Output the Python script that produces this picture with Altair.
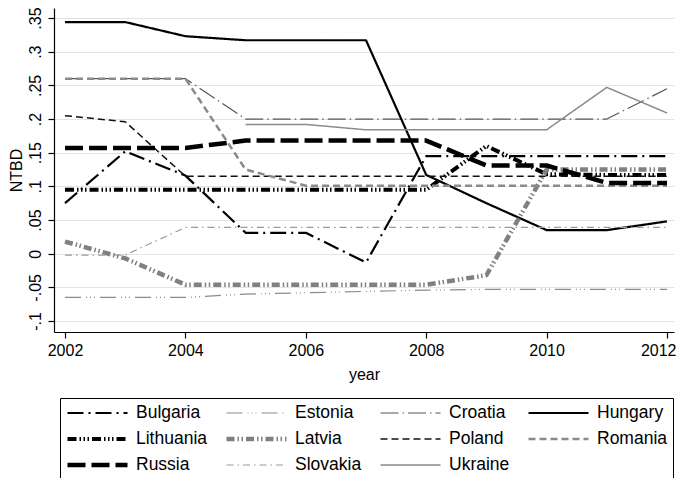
import altair as alt
import pandas as pd

years = list(range(2002, 2013))
countries = ["Bulgaria", "Estonia", "Croatia", "Hungary", "Lithuania", "Latvia",
             "Poland", "Romania", "Russia", "Slovakia", "Ukraine"]

bulgaria = [0.075, 0.152, 0.116, 0.031, 0.031, -0.013, 0.145, 0.145, 0.145, 0.145, 0.145]
estonia = [-0.065, -0.065, -0.065, -0.060, -0.058, -0.056, -0.054, -0.053, -0.053, -0.053, -0.053]
croatia = [0.26, 0.26, 0.26, 0.20, 0.20, 0.20, 0.20, 0.20, 0.20, 0.20, 0.245]
hungary = [0.344, 0.344, 0.323, 0.317, 0.317, 0.317, 0.117, 0.075, 0.035, 0.035, 0.048]
lithuania = [0.095, 0.095, 0.095, 0.095, 0.095, 0.095, 0.095, 0.160, 0.118, 0.117, 0.117]
latvia = [0.018, -0.007, -0.046, -0.046, -0.046, -0.046, -0.046, -0.032, 0.125, 0.125, 0.125]
poland = [0.205, 0.196, 0.115, 0.115, 0.115, 0.115, 0.115, 0.115, 0.115, 0.115, 0.115]
romania = [0.26, 0.26, 0.26, 0.125, 0.101, 0.101, 0.101, 0.101, 0.101, 0.101, 0.101]
russia = [0.157, 0.157, 0.157, 0.168, 0.168, 0.168, 0.168, 0.131, 0.131, 0.105, 0.105]
slovakia = [-0.002, -0.002, 0.039, 0.039, 0.039, 0.039, 0.039, 0.039, 0.039, 0.039, 0.039]
ukraine = [None, None, None, 0.192, 0.192, 0.184, 0.184, 0.184, 0.184, 0.247, 0.209]

series = [bulgaria, estonia, croatia, hungary, lithuania, latvia,
          poland, romania, russia, slovakia, ukraine]

colors = ["#000000", "#8c8c8c", "#555555", "#000000", "#000000", "#808080",
          "#111111", "#8a8a8a", "#000000", "#9a9a9a", "#8a8a8a"]
dashes = [[16, 5, 2, 5], [16, 5, 1, 3, 1, 3, 1, 5], [18, 4, 1.5, 4], [1, 0],
          [9, 3, 1.5, 2.5, 1.5, 2.5, 1.5, 3], [8, 3, 1.5, 2.5, 1.5, 3],
          [7, 4], [7, 4], [18, 6], [7, 4, 1.5, 4], [1, 0]]
widths = [2.2, 1.2, 1.2, 2.2, 4, 4.5, 1.5, 2.5, 4.5, 1.2, 1.5]

rows = []
for c, vals in zip(countries, series):
    for y, v in zip(years, vals):
        if v is not None:
            rows.append({"country": c, "year": y, "ntbd": v})
df = pd.DataFrame(rows)

FONT = "Liberation Sans"

leg = alt.Legend(title=None, orient="none", legendX=6, legendY=390, columns=4,
                 direction="horizontal", symbolType="M-1,0L5,0", symbolSize=400,
                 clipHeight=20,
                 labelFontSize=17.5, labelFont=FONT, labelColor="black",
                 labelOffset=46, columnPadding=16, rowPadding=6, padding=5,
                 strokeColor="black", fillColor="white", gridAlign="each",
                 labelLimit=300)

yvals = [-0.1, -0.05, 0.0, 0.05, 0.1, 0.15, 0.2, 0.25, 0.3, 0.35]
ylab = ("datum.value == 0 ? '0' : (datum.value < 0 ? '-' + slice(format(-datum.value, '.2~f'), 1)"
        " : slice(format(datum.value, '.2~f'), 1))")

chart = alt.Chart(df).mark_line(strokeCap="butt", strokeJoin="round").encode(
    x=alt.X("year:Q",
            scale=alt.Scale(domain=[2001.817, 2012.116], nice=False, zero=False),
            axis=alt.Axis(values=[2002, 2004, 2006, 2008, 2010, 2012], format="d",
                          grid=False, title="year", tickSize=6, labelPadding=4,
                          titlePadding=8, labelFlush=9, labelFlushOffset=9)),
    y=alt.Y("ntbd:Q",
            scale=alt.Scale(domain=[-0.1163, 0.3649], nice=False, zero=False),
            axis=alt.Axis(values=yvals, labelExpr=ylab, grid=True, title="NTBD",
                          tickSize=6, labelAngle=270, labelAlign="center",
                          labelBaseline="bottom", labelPadding=5, titlePadding=3)),
    color=alt.Color("country:N", scale=alt.Scale(domain=countries, range=colors), legend=leg),
    strokeDash=alt.StrokeDash("country:N", scale=alt.Scale(domain=countries, range=dashes), legend=leg),
    strokeWidth=alt.StrokeWidth("country:N", scale=alt.Scale(type="ordinal", domain=countries, range=widths), legend=leg),
).properties(
    width=620, height=324,
    autosize=alt.AutoSizeParams(type="none"),
    padding={"left": 46, "top": 0, "right": 3, "bottom": 146},
).configure_view(stroke=None).configure_axis(
    labelFont=FONT, titleFont=FONT, labelFontSize=16, titleFontSize=16,
    titleFontWeight="normal", labelColor="black", titleColor="black",
    domainColor="black", tickColor="black", domainWidth=1.2, tickWidth=1.2,
    gridColor="#e4e4e4", gridWidth=1.2,
)

chart.save("out.html", embed_options={"renderer": "svg", "actions": False})
